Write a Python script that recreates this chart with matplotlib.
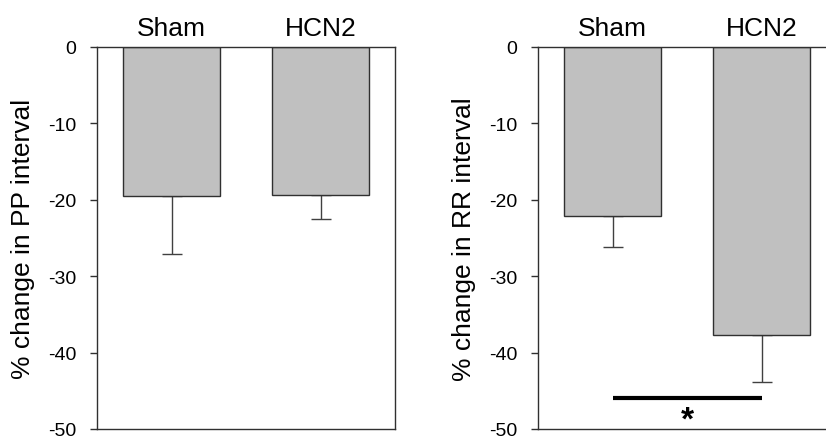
import matplotlib.pyplot as plt

plt.rcParams['font.family'] = ['Liberation Sans', 'DejaVu Sans']

groups = ['Sham', 'HCN2']
pp_means = [-19.5, -19.4]
pp_err = [7.6, 3.1]
rr_means = [-22.1, -37.7]
rr_err = [4.1, 6.2]
sig_y = -46.0

W, H = 826, 439
fig = plt.figure(figsize=(W / 100, H / 100), dpi=100)

ax1 = fig.add_axes([97 / W, 9 / H, 298 / W, 382 / H])
ax2 = fig.add_axes([538 / W, 9 / H, 298 / W, 382 / H])

x = [0, 1]
for ax, means, errs, lab in [(ax1, pp_means, pp_err, '% change in PP interval'),
                             (ax2, rr_means, rr_err, '% change in RR interval')]:
    ax.bar(x, means, width=0.645, color='#c0c0c0', edgecolor='#303030', linewidth=1.0, zorder=2)
    ax.errorbar(x, means, yerr=[errs, [0, 0]], fmt='none', ecolor='#404040',
                elinewidth=1.0, capsize=7, capthick=1.0, zorder=1)
    ax.set_xlim(-0.5, 1.5)
    ax.set_ylim(-50, 0)
    ax.set_yticks([0, -10, -20, -30, -40, -50])
    ax.set_yticklabels(['0', '-10', '-20', '-30', '-40', '-50'])
    ax.tick_params(axis='y', direction='out', length=5, width=1, labelsize=14, pad=10, color='#303030')
    ax.xaxis.tick_top()
    ax.set_xticks(x)
    ax.set_xticklabels(groups, fontsize=19)
    ax.tick_params(axis='x', length=0, pad=5)
    ax.set_ylabel(lab, fontsize=19, labelpad=9)
    for s in ax.spines.values():
        s.set_color('#303030')
        s.set_linewidth(1.0)

# significance bar
ax2.plot(x, [sig_y, sig_y], color='black', linewidth=3, solid_capstyle='butt')
ax2.text(0.5, sig_y - 2.8, '*', ha='center', va='center', fontsize=24, fontweight='bold')

fig.savefig('out.png', dpi=100)
